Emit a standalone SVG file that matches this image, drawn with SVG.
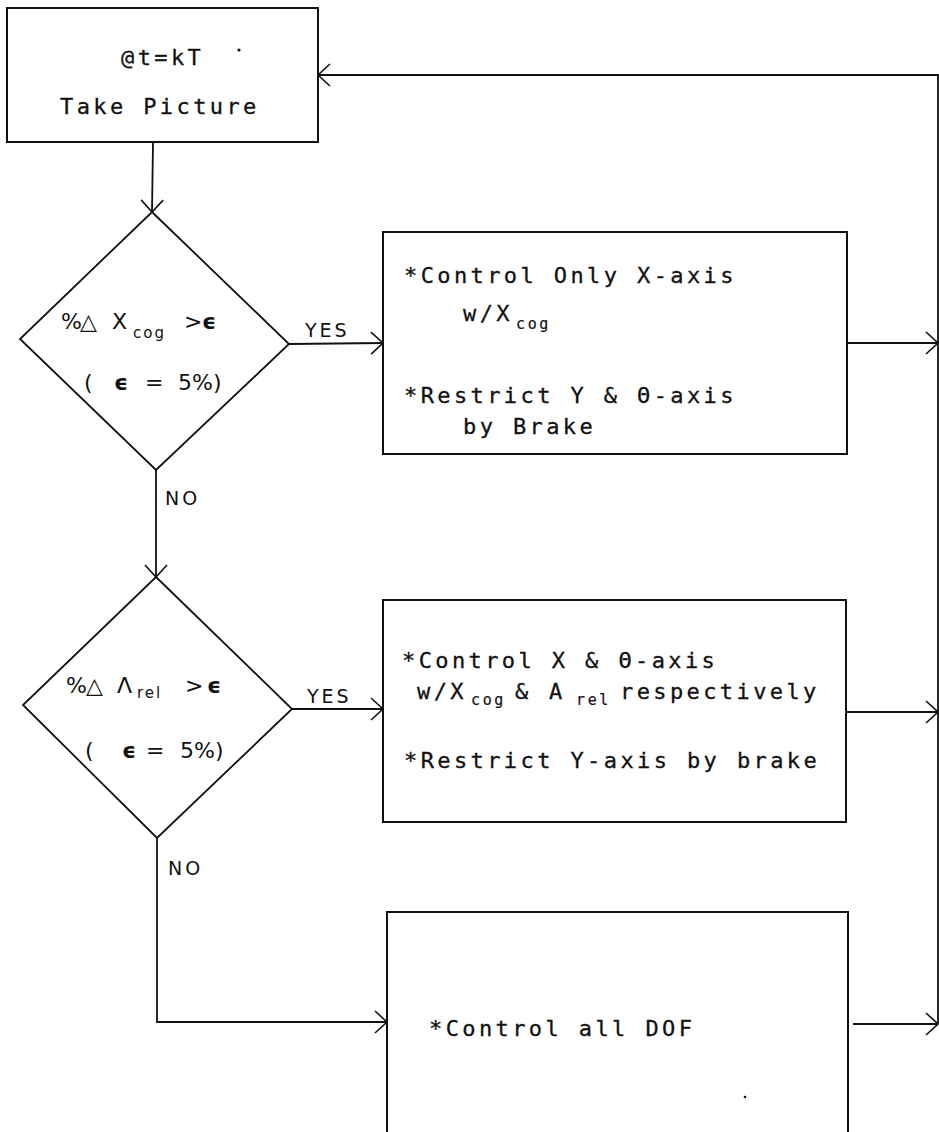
<svg xmlns="http://www.w3.org/2000/svg" width="939" height="1132" viewBox="0 0 939 1132">
  <style>
    .box { fill: none; stroke: #111; stroke-width: 2; }
    .dia { fill: none; stroke: #111; stroke-width: 1.8; stroke-linejoin: miter; }
    .wire { fill: none; stroke: #111; stroke-width: 1.8; }
    .mono { font-family: "DejaVu Sans Mono", "Liberation Mono", monospace; font-size: 22px; letter-spacing: 3.4px; fill: #111; stroke: #111; stroke-width: 0.3; }
    .sub { font-family: "DejaVu Sans Mono", "Liberation Mono", monospace; font-size: 15px; letter-spacing: 2.6px; fill: #111; stroke: #111; stroke-width: 0.2; }
    .cond { font-family: "DejaVu Sans", "Liberation Sans", sans-serif; font-size: 22px; fill: #111; }
    .csub { font-family: "DejaVu Sans", "Liberation Sans", sans-serif; font-size: 15px; letter-spacing: 2px; fill: #111; }
    .lbl { font-family: "DejaVu Sans", "Liberation Sans", sans-serif; font-size: 19px; letter-spacing: 3px; fill: #111; }
    .eps { font-family: "DejaVu Sans", "Liberation Sans", sans-serif; font-size: 22px; font-weight: bold; fill: #111; }
  </style>
  <defs>
    <marker id="open-arrow" markerUnits="userSpaceOnUse" viewBox="-1 -13 15 26" markerWidth="15" markerHeight="26" refX="12" refY="0" orient="auto">
      <path d="M0,-11 L12,0 L0,11" fill="none" stroke="#111" stroke-width="1.6"/>
    </marker>
  </defs>
  <rect width="939" height="1132" fill="#fff"/>

  <!-- connectors -->
  <g id="connectors">
    <path class="wire" d="M153,142 L152,212" marker-end="url(#open-arrow)"/>
    <path class="wire" d="M289,344 L383,343" marker-end="url(#open-arrow)"/>
    <path class="wire" d="M156,470 L156,577" marker-end="url(#open-arrow)"/>
    <path class="wire" d="M292,709 L383,709" marker-end="url(#open-arrow)"/>
    <path class="wire" d="M157,838 L157,1022 L387,1022" marker-end="url(#open-arrow)"/>
    <path class="wire" d="M847,343 L938,343" marker-end="url(#open-arrow)"/>
    <path class="wire" d="M846,712 L938,712" marker-end="url(#open-arrow)"/>
    <path class="wire" d="M853,1024 L938,1024" marker-end="url(#open-arrow)"/>
    <path class="wire" d="M938,1024 L938,75 L318,75" marker-end="url(#open-arrow)"/>
    <text class="lbl" x="305" y="337">YES</text>
    <text class="lbl" x="165" y="505">NO</text>
    <text class="lbl" x="307" y="703">YES</text>
    <text class="lbl" x="168" y="875">NO</text>
  </g>

  <!-- start: take picture -->
  <g id="take-picture">
    <rect class="box" x="7" y="8" width="311" height="134"/>
    <text class="mono" x="121" y="65">@t=kT</text>
    <circle cx="239" cy="50" r="1.6" fill="#111"/>
    <text class="mono" x="60" y="114">Take Picture</text>
  </g>

  <!-- decision: X cog change -->
  <g id="check-xcog">
    <path class="dia" d="M152,212 L289,344 L156,470 L20,339 Z"/>
    <text class="cond" x="61" y="329" font-size="15">%</text>
    <text class="cond" x="80" y="329" font-size="19">△</text>
    <text class="cond" x="112" y="329">X</text>
    <text class="csub" x="133" y="338">cog</text>
    <text class="cond" x="184" y="329" font-size="13">&gt;</text>
    <text class="eps" x="202" y="329">ϵ</text>
    <text class="cond" x="84" y="390">(</text>
    <text class="eps" x="114" y="390">ϵ</text>
    <text class="cond" x="145" y="390">=</text>
    <text class="cond" x="178" y="390">5%)</text>
  </g>

  <!-- decision: A rel change -->
  <g id="check-arel">
    <path class="dia" d="M156,577 L292,709 L157,838 L23,705 Z"/>
    <text class="cond" x="66" y="693" font-size="15">%</text>
    <text class="cond" x="86" y="693" font-size="19">△</text>
    <text class="cond" x="117" y="693">Λ</text>
    <text class="csub" x="137" y="698">rel</text>
    <text class="cond" x="185" y="693" font-size="13">&gt;</text>
    <text class="eps" x="207" y="693">ϵ</text>
    <text class="cond" x="85" y="758">(</text>
    <text class="eps" x="122" y="758">ϵ</text>
    <text class="cond" x="146" y="758">=</text>
    <text class="cond" x="180" y="758">5%)</text>
  </g>

  <!-- action: X axis only -->
  <g id="control-x">
    <rect class="box" x="383" y="232" width="464" height="222"/>
    <text class="mono" x="404" y="283">*Control Only X-axis</text>
    <text class="mono" x="463" y="321">w/X</text>
    <text class="sub" x="516" y="329">cog</text>
    <text class="mono" x="404" y="403">*Restrict Y &amp; Θ-axis</text>
    <text class="mono" x="463" y="434">by Brake</text>
  </g>

  <!-- action: X and theta axes -->
  <g id="control-x-theta">
    <rect class="box" x="383" y="600" width="463" height="222"/>
    <text class="mono" x="402" y="668">*Control X &amp; Θ-axis</text>
    <text class="mono" x="417" y="699">w/X</text>
    <text class="sub" x="471" y="705">cog</text>
    <text class="mono" x="515" y="699">&amp;</text>
    <text class="mono" x="549" y="699">A</text>
    <text class="sub" x="576" y="705">rel</text>
    <text class="mono" x="620" y="699">respectively</text>
    <text class="mono" x="404" y="768">*Restrict Y-axis by brake</text>
  </g>

  <!-- action: all DOF -->
  <g id="control-all">
    <path class="box" d="M387,1140 L387,912 L848,912 L848,1140"/>
    <text class="mono" x="429" y="1036">*Control all DOF</text>
    <circle cx="745" cy="1097" r="1.3" fill="#111"/>
  </g>
</svg>
